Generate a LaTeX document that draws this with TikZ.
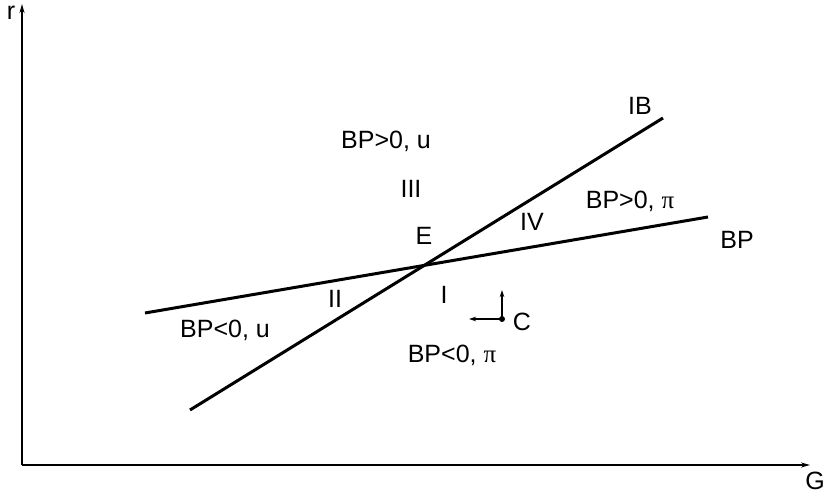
\documentclass[tikz,border=0pt]{standalone}
\usepackage{fontspec}
\setmainfont{Liberation Sans}
\newfontfamily\pifont{Liberation Serif}
\usetikzlibrary{arrows.meta}
\begin{document}
\begin{tikzpicture}[x=1pt,y=-1pt,
  lbl/.style={anchor=base,inner sep=0pt,font=\fontsize{25}{28}\selectfont},
  axis/.style={line width=1.4pt,-{Stealth[length=9pt,width=5pt]}},
  curve/.style={line width=3pt},
  small/.style={line width=1.5pt,-{Stealth[length=7pt,width=4.5pt]}}]
\useasboundingbox (0,0) rectangle (824,494);
% axes
\coordinate (O) at (22,465);
\coordinate (ytop) at (22,4);
\coordinate (xend) at (810,465);
\draw[axis] (O) -- (ytop);
\draw[axis] (O) -- (xend);
\node[lbl] (r) at (11,20) {r};
\node[lbl] (G) at (815,489) {G};
% lines
\coordinate (bp1) at (145,313);
\coordinate (bp2) at (708,217);
\coordinate (ib1) at (190,410);
\coordinate (ib2) at (663,118);
\draw[curve] (bp1) -- (bp2);
\draw[curve] (ib1) -- (ib2);
% labels
\node[lbl] (IB) at (640,115) {IB};
\node[lbl] (BPlbl) at (737,249) {BP};
\node[lbl] (q1) at (386,149) {BP>0, u};
\node[lbl] (III) at (411,198) {III};
\node[lbl] (E) at (424,245) {E};
\node[lbl] (IV) at (532,231) {IV};
\node[lbl] (q2) at (630,209) {BP>0, {\pifont π}};
\node[lbl] (II) at (335,307) {II};
\node[lbl] (I) at (444,303) {I};
\node[lbl] (q3) at (225,337) {BP<0, u};
\node[lbl] (q4) at (452,362) {BP<0, {\pifont π}};
\node[lbl] (C) at (522,330) {C};
% point C with arrows
\coordinate (cpt) at (502,319);
\coordinate (cup) at (502,290);
\coordinate (cleft) at (469,319);
\draw[small] (cpt) -- (cup);
\draw[small] (cpt) -- (cleft);
\fill (cpt) circle (3pt);
\end{tikzpicture}
\end{document}
